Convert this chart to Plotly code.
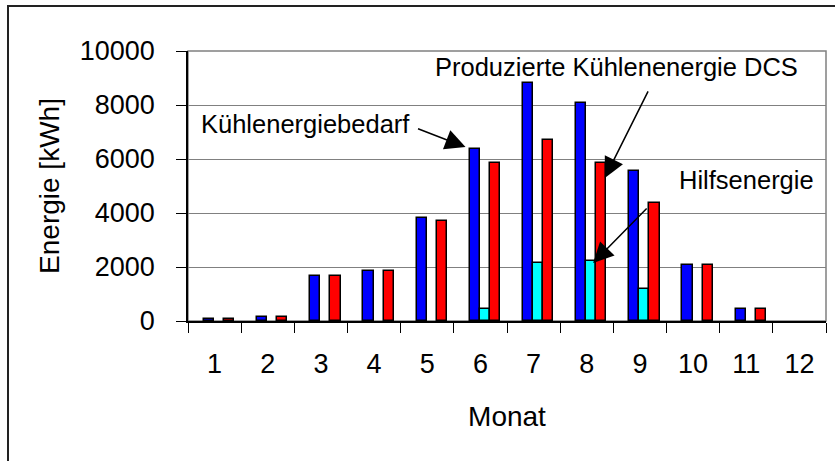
import plotly.graph_objects as go

months = [str(i) for i in range(1, 13)]
bedarf = [80, 150, 1650, 1870, 3800, 6380, 8830, 8090, 5560, 2070, 450, 0]
hilfs = [0, 0, 0, 0, 0, 450, 2160, 2240, 1200, 0, 0, 0]
dcs = [80, 150, 1650, 1870, 3720, 5870, 6690, 5870, 4370, 2070, 450, 0]
yticks = [0, 2000, 4000, 6000, 8000, 10000]
ytick_labels = [str(v) for v in yticks]

FONT = "Liberation Sans, Arial, sans-serif"
W, H = 835, 461
L, R, T, B = 188, 9, 51, 140
pw, ph = W - L - R, H - T - B


def nz(v):
    return [x if x else None for x in v]


def px2paper(x, y):
    return (x - L) / pw, (H - B - y) / ph


fig = go.Figure()
bw = 0.19
for name, vals, col, off in [
    ("Kühlenergiebedarf", bedarf, "#0000FF", -0.2),
    ("Hilfsenergie", hilfs, "#00FFFF", -0.01),
    ("Produzierte Kühlenenergie DCS", dcs, "#FF0000", 0.18),
]:
    fig.add_trace(go.Bar(x=months, y=nz(vals), name=name, width=bw, offset=off,
                         marker=dict(color=col, line=dict(color="black", width=1.5))))

ox0, oy1 = px2paper(8, 6)
ox1, oy0 = px2paper(845, 475)
shapes = [
    dict(type="rect", xref="paper", yref="paper", x0=0, x1=1, y0=0, y1=1,
         line=dict(color="#808080", width=1.5), layer="below"),
    dict(type="rect", xref="paper", yref="paper", x0=ox0, x1=ox1, y0=oy0, y1=oy1,
         line=dict(color="#222222", width=2), layer="below"),
]

ann = []
# arrows
ann.append(dict(x=4.72, y=bedarf[5] + 60, xref="x", yref="y", text="", showarrow=True,
                ax=-49, ay=-19, arrowhead=2, arrowsize=2.7, arrowwidth=1.5, arrowcolor="black", standoff=0))
ann.append(dict(x=7.34, y=5300, xref="x", yref="y", text="", showarrow=True,
                ax=44, ay=-88, arrowhead=2, arrowsize=2.7, arrowwidth=1.5, arrowcolor="black", standoff=0))
ann.append(dict(x=7.12, y=2150, xref="x", yref="y", text="", showarrow=True,
                ax=55, ay=-56, arrowhead=2, arrowsize=2.7, arrowwidth=1.5, arrowcolor="black", standoff=0))
for txt, cx, cy in [("Kühlenergiebedarf", 305, 124),
                    ("Produzierte Kühlenenergie DCS", 616, 67),
                    ("Hilfsenergie", 746, 180)]:
    px_, py_ = px2paper(cx, cy)
    ann.append(dict(x=px_, y=py_, xref="paper", yref="paper", text=txt, showarrow=False,
                    xanchor="center", yanchor="middle", font=dict(family=FONT, size=25.5, color="black")))

fig.update_layout(
    width=W, height=H,
    margin=dict(l=L, r=R, t=T, b=B, autoexpand=False),
    paper_bgcolor="white", plot_bgcolor="white",
    showlegend=False, barmode="group", bargap=0, bargroupgap=0,
    font=dict(family=FONT, size=26, color="black"),
    shapes=shapes, annotations=ann,
    xaxis=dict(type="category", tickson="boundaries", ticks="outside", ticklen=10, tickwidth=1,
               tickcolor="black", showline=True, linecolor="black", linewidth=1.5,
               showgrid=False, ticklabelstandoff=18,
               title=dict(text="Monat", font=dict(size=28), standoff=28),
               tickfont=dict(size=27), range=[-0.5, 11.5]),
    yaxis=dict(range=[0, 10000], tickvals=yticks, ticktext=ytick_labels, ticks="outside",
               ticklen=10, tickwidth=1,
               tickcolor="black", showline=True, linecolor="black", linewidth=1.5,
               showgrid=True, gridcolor="#808080", gridwidth=1, zeroline=False,
               ticklabelstandoff=16, tickfont=dict(size=27),
               title=dict(text="Energie [kWh]", font=dict(size=28), standoff=12)),
)

fig.write_html("out.html", config={"displayModeBar": False},
               post_script="document.body.style.margin='0';")
